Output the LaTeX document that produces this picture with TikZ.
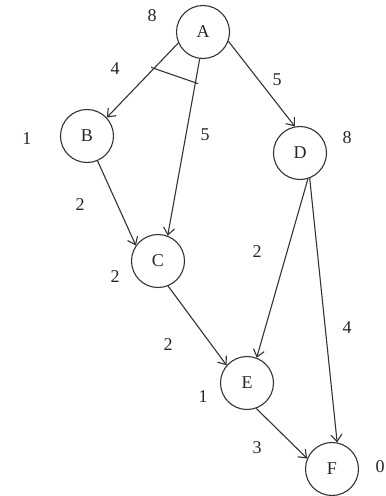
\documentclass[tikz,border=0pt]{standalone}
\usepackage{fontspec}
\setmainfont{Liberation Serif}
\usetikzlibrary{arrows.meta,calc}
\begin{document}
\begin{tikzpicture}[x=1pt,y=-1pt,
  vtx/.style={circle,draw=black!80,line width=1.1pt,minimum size=53pt,inner sep=0pt,font=\fontsize{18}{18}\selectfont,text=black!85},
  lbl/.style={font=\fontsize{18}{18}\selectfont,text=black!85,inner sep=0pt},
  edge/.style={draw=black!80,line width=1.1pt,-{Straight Barb[length=7pt,width=11pt,line width=1.1pt]}}]
\useasboundingbox (0,0) rectangle (386,496);
\node[vtx] (A) at (203,32) {A};
\node[vtx] (B) at (87,136) {B};
\node[vtx] (C) at (158,261) {C};
\node[vtx] (D) at (300,153) {D};
\node[vtx] (E) at (247,383) {E};
\node[vtx] (F) at (332,469) {F};
\draw[edge] (A.-156) -- (B.43);
\draw[edge] (A.-97) -- (C.69);
\draw[edge] (A.-20) -- (D.101);
\draw[edge] (B.-67) -- (C.145);
\draw[edge] (C.-68) -- (E.139);
\draw[edge] (D.-73) -- (E.69);
\draw[edge] (D.-69) -- (F.79);
\draw[edge] (E.-70) -- (F.157);
\coordinate (m1) at ($(A.-156)!0.34!(B.43)$);
\coordinate (m2) at ($(A.-97)!0.135!(C.69)$);
\draw[draw=black!80,line width=1.1pt] ($(m1)!-3pt!(m2)$) -- ($(m2)!-3pt!(m1)$);
\node[lbl] (la) at (152,16) {8};
\node[lbl] (lab) at (115,69) {4};
\node[lbl] (lac) at (205,135) {5};
\node[lbl] (lad) at (277,80) {5};
\node[lbl] (lb) at (27,139) {1};
\node[lbl] (lbc) at (80,205) {2};
\node[lbl] (lc) at (115,277) {2};
\node[lbl] (ld) at (347,138) {8};
\node[lbl] (lde) at (257,252) {2};
\node[lbl] (ldf) at (347,328) {4};
\node[lbl] (lce) at (168,345) {2};
\node[lbl] (le) at (203,397) {1};
\node[lbl] (lef) at (257,448) {3};
\node[lbl] (lf) at (380,467) {0};
\end{tikzpicture}
\end{document}
